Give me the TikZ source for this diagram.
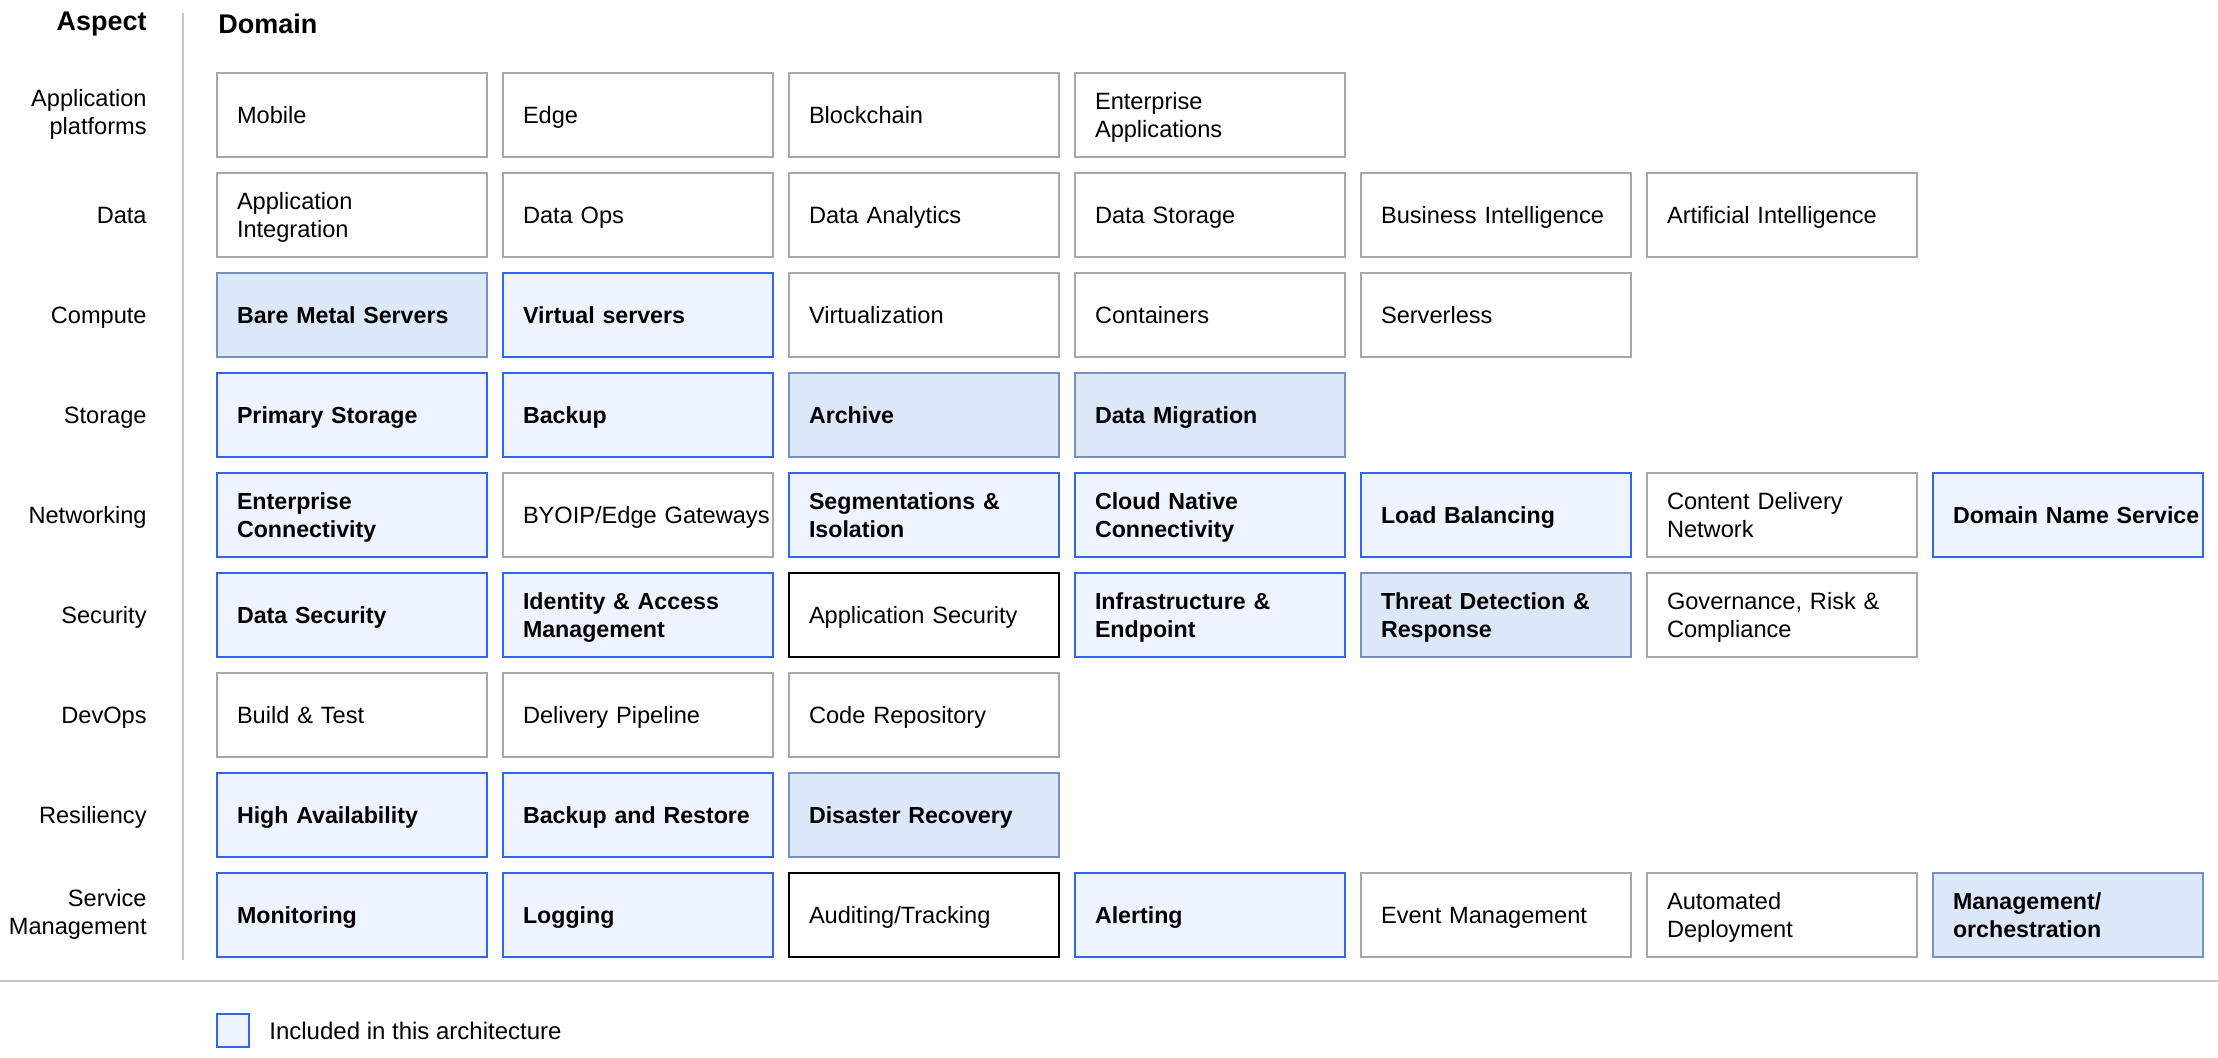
\documentclass[tikz,border=0pt]{standalone}
\usepackage{fontspec}
\setmainfont{Liberation Sans}
\usepackage{tikz}
\usetikzlibrary{positioning}
\definecolor{cellgray}{HTML}{A8A8A8}
\definecolor{rulegray}{HTML}{C6C6C6}
\definecolor{inclblue}{HTML}{2F66F0}
\definecolor{inclfill}{HTML}{EDF4FF}
\definecolor{darkline}{HTML}{7591C4}
\definecolor{darkfill}{HTML}{DCE7F8}
\newcommand{\cellstrutA}{\rule{0pt}{11.6pt}}
\newcommand{\cellstrutB}{\rule[-3pt]{0pt}{3pt}}

\begin{document}
\begin{tikzpicture}[x=0.5pt,y=-0.5pt]
                \tikzstyle{cell}=[draw=cellgray,line width=1pt,fill=white,minimum width=135pt,minimum height=42pt,text width=115pt,inner xsep=10pt,inner ysep=0pt,align=left,font=\fontsize{11.8}{14.3}\selectfont,execute at begin node=\cellstrutA,execute at end node=\cellstrutB]
                \tikzstyle{incl}=[cell,draw=inclblue,fill=inclfill,font=\fontsize{11.6}{14.3}\selectfont\bfseries]
                \tikzstyle{incldark}=[incl,draw=darkline,fill=darkfill]
                \tikzstyle{strong}=[cell,draw=black]
                \tikzstyle{aspect}=[anchor=east,align=right,inner sep=0pt,font=\fontsize{11.8}{14.3}\selectfont,execute at begin node=\cellstrutA,execute at end node=\cellstrutB]
                \tikzstyle{head}=[inner sep=0pt,font=\fontsize{13.5}{16}\selectfont\bfseries]
                \tikzstyle{rule}=[draw=rulegray,line width=1pt]

                \useasboundingbox (0,0) rectangle (2218,1058);

                \node [head,anchor=east] (aspectHead) at (147,24) {Aspect};
                \node [head,anchor=west] (domainHead) at (218,24) {Domain};
                \coordinate (sepTop) at (183,13);
                \coordinate (sepBot) at (183,960);
                \draw [rule] (sepTop) -- (sepBot);
                \coordinate (footL) at (0,981);
                \coordinate (footR) at (2218,981);
                \draw [rule] (footL) -- (footR);

                \node [aspect] (appPlat) at (147,115) {Application\\platforms};
                \node [cell] (mobile) at (352,115) {Mobile};
                \node [cell] (edge) at (638,115) {Edge};
                \node [cell] (blockchain) at (924,115) {Blockchain};
                \node [cell] (entApps) at (1210,115) {Enterprise\\Applications};

                \node [aspect] (data) at (147,215) {Data};
                \node [cell] (appInt) at (352,215) {Application\\Integration};
                \node [cell] (dataOps) at (638,215) {Data Ops};
                \node [cell] (dataAnalytics) at (924,215) {Data Analytics};
                \node [cell] (dataStorage) at (1210,215) {Data Storage};
                \node [cell] (busIntel) at (1496,215) {Business Intelligence};
                \node [cell] (artIntel) at (1782,215) {Artificial Intelligence};

                \node [aspect] (compute) at (147,315) {Compute};
                \node [incldark] (bareMetal) at (352,315) {Bare Metal Servers};
                \node [incl] (virtServers) at (638,315) {Virtual servers};
                \node [cell] (virtualization) at (924,315) {Virtualization};
                \node [cell] (containers) at (1210,315) {Containers};
                \node [cell] (serverless) at (1496,315) {Serverless};

                \node [aspect] (storage) at (147,415) {Storage};
                \node [incl] (primStorage) at (352,415) {Primary Storage};
                \node [incl] (backup) at (638,415) {Backup};
                \node [incldark] (archive) at (924,415) {Archive};
                \node [incldark] (dataMigration) at (1210,415) {Data Migration};

                \node [aspect] (networking) at (147,515) {Networking};
                \node [incl] (entConn) at (352,515) {Enterprise\\Connectivity};
                \node [cell] (byoip) at (638,515) {\mbox{BYOIP/Edge Gateways}};
                \node [incl] (segIso) at (924,515) {Segmentations \&\\Isolation};
                \node [incl] (cloudConn) at (1210,515) {Cloud Native\\Connectivity};
                \node [incl] (loadBal) at (1496,515) {Load Balancing};
                \node [cell] (cdn) at (1782,515) {Content Delivery\\Network};
                \node [incl] (dns) at (2068,515) {\mbox{Domain Name Service}};

                \node [aspect] (security) at (147,615) {Security};
                \node [incl] (dataSec) at (352,615) {Data Security};
                \node [incl] (iam) at (638,615) {Identity \& Access\\Management};
                \node [strong] (appSec) at (924,615) {Application Security};
                \node [incl] (infraEnd) at (1210,615) {Infrastructure \&\\Endpoint};
                \node [incldark] (threatDet) at (1496,615) {Threat Detection \&\\Response};
                \node [cell] (grc) at (1782,615) {Governance, Risk \&\\Compliance};

                \node [aspect] (devops) at (147,715) {DevOps};
                \node [cell] (buildTest) at (352,715) {Build \& Test};
                \node [cell] (pipeline) at (638,715) {Delivery Pipeline};
                \node [cell] (codeRepo) at (924,715) {Code Repository};

                \node [aspect] (resiliency) at (147,815) {Resiliency};
                \node [incl] (highAvail) at (352,815) {High Availability};
                \node [incl] (backupRestore) at (638,815) {Backup and Restore};
                \node [incldark] (disRecovery) at (924,815) {Disaster Recovery};

                \node [aspect] (serviceMgmt) at (147,915) {Service\\Management};
                \node [incl] (monitoring) at (352,915) {Monitoring};
                \node [incl] (logging) at (638,915) {Logging};
                \node [strong] (auditing) at (924,915) {Auditing/Tracking};
                \node [incl] (alerting) at (1210,915) {Alerting};
                \node [cell] (eventMgmt) at (1496,915) {Event Management};
                \node [cell] (autoDeploy) at (1782,915) {Automated\\Deployment};
                \node [incldark] (orchestration) at (2068,915) {Management/\\orchestration};

                \node [draw=inclblue,fill=inclfill,line width=1pt,minimum width=16pt,minimum height=16.5pt,inner sep=0pt] (keyBox) at (233,1030.5) {};
                \node [right=9.5pt of keyBox,inner sep=0pt,font=\fontsize{12}{14.5}\selectfont] (keyText) {Included in this architecture};
\end{tikzpicture}
\end{document}
